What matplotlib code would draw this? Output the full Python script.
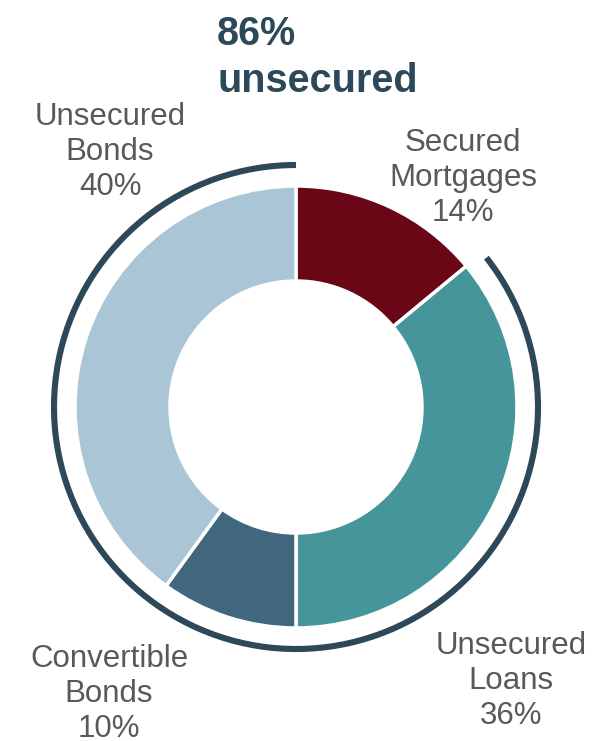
import matplotlib
matplotlib.use("Agg")
import matplotlib.pyplot as plt
from matplotlib.patches import Arc

plt.rcParams['font.family'] = ['Liberation Sans', 'DejaVu Sans']

# debt mix, clockwise from 12 o'clock
categories = ["Secured\nMortgages", "Unsecured\nLoans", "Convertible\nBonds", "Unsecured\nBonds"]
shares = [14, 36, 10, 40]
colors = ["#6a0717", "#45959a", "#41677e", "#a9c5d6"]
secured = [True, False, False, False]
unsecured_total = sum(s for s, sec in zip(shares, secured) if not sec)

# label anchor points (pixels, from top-left)
label_pos = [(463, 178), (511, 681), (109, 694), (110, 152)]

W, H = 593, 741
fig = plt.figure(figsize=(W / 100, H / 100), dpi=100)
ax = fig.add_axes([0, 0, 1, 1])

cx, cy = 296, H - 407
r_out, r_in = 221, 126

ax.pie(shares, colors=colors, startangle=90, counterclock=False,
       radius=r_out, center=(cx, cy), frame=True,
       wedgeprops=dict(width=r_out - r_in, edgecolor="white", linewidth=2.5))
ax.set_xlim(0, W)
ax.set_ylim(0, H)
ax.set_aspect("auto")
ax.axis("off")

# bracket arc around the unsecured part
gap = 1.5
start_cw = shares[0] / 100 * 360 + gap
r_arc = 242
ax.add_patch(Arc((cx, cy), 2 * r_arc, 2 * r_arc, theta1=90, theta2=90 - start_cw,
                 color="#2d4858", linewidth=4.4, capstyle="butt"))

ax.text(217, H - 45, f"{unsecured_total}%", fontsize=28.5, fontweight="bold",
        color="#2d4858", ha="left", va="baseline")
ax.text(217, H - 92, "unsecured", fontsize=28.5, fontweight="bold",
        color="#2d4858", ha="left", va="baseline")

for name, share, (x, y) in zip(categories, shares, label_pos):
    ax.text(x, H - y, f"{name}\n{share}%", fontsize=22.5, color="#595959",
            ha="center", va="center", linespacing=1.2)

fig.savefig("out.png", dpi=100)
